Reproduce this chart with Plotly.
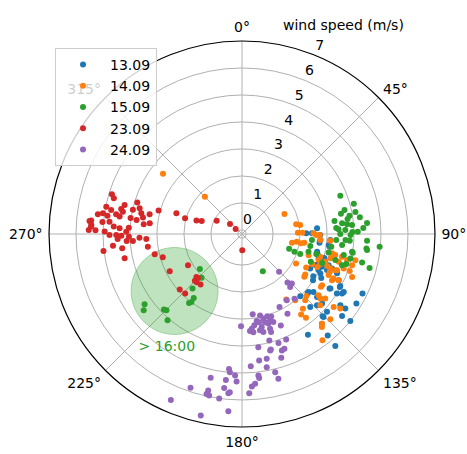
import numpy as np
import plotly.graph_objects as go

# ---------------- data (wind direction in degrees, wind speed in m/s) ----------------
days = ["13.09", "14.09", "15.09", "23.09", "24.09"]
colors = ["#1f77b4", "#ff7f0e", "#2ca02c", "#d62728", "#9467bd"]

dir_1309 = [85.6, 89.4, 89.4, 90.7, 96.4, 93.9, 97.3, 104.9, 108.5, 116.8, 112.5, 112.3, 116.7,
            113.0, 123.1, 115.5, 117.9, 119.7, 121.9, 112.5, 131.9, 136.9, 136.9, 133.5, 132.5,
            135.6, 125.8, 121.3, 116.3, 128.8, 139.8, 140.2, 146.8, 138.3, 131.0, 129.0, 130.0,
            131.0, 121.7, 122.1, 120.7, 118.4, 135.5, 125.9, 129.3, 94.4, 98.3, 103.3, 107.7,
            107.7, 113.0, 109.8, 110.9, 115.3, 106.3, 120.6, 119.1]
speed_1309 = [2.64, 2.23, 2.44, 2.75, 2.74, 3.13, 3.09, 2.75, 3.10, 2.68, 2.86, 3.05, 3.10,
              3.27, 2.99, 3.82, 3.97, 4.19, 3.67, 3.66, 3.12, 3.01, 3.55, 3.68, 4.12,
              4.12, 4.57, 4.81, 4.83, 5.00, 4.77, 5.25, 4.31, 4.30, 3.12, 3.26, 3.48,
              3.78, 3.70, 4.00, 4.16, 3.97, 4.16, 4.35, 4.64, 2.76, 3.13, 2.71, 2.83,
              3.03, 2.80, 3.26, 3.42, 2.98, 3.03, 2.92, 3.21]

dir_1409 = [307.3, 315.2, 64.7, 81.2, 88.7, 88.8, 99.9, 98.0, 99.0, 89.4, 90.7, 94.4, 94.4,
            118.6, 107.6, 108.8, 111.0, 108.5, 105.4, 102.1, 106.0, 102.8, 103.9, 103.0, 105.8,
            117.5, 124.5, 111.3, 110.8, 108.7, 111.3, 115.5, 115.9, 115.4, 123.8, 128.6, 129.5,
            136.3, 140.8, 143.7, 142.6, 128.5, 127.2, 139.3, 142.9, 146.0, 141.2, 102.7, 106.2,
            133.9, 122.6, 117.2, 111.2, 109.0, 113.4, 122.6, 134.0, 138.3, 127.8, 132.3, 98.0,
            90.8, 79.8, 113.2, 110.6, 113.7]
speed_1409 = [3.53, 1.80, 1.59, 2.03, 1.92, 2.09, 1.73, 1.90, 2.06, 2.50, 2.73, 2.76, 3.13,
              2.13, 2.44, 2.85, 2.96, 3.10, 3.25, 3.26, 3.58, 3.65, 3.86, 4.16, 4.09,
              2.53, 2.65, 3.36, 3.62, 3.83, 4.23, 3.82, 3.62, 3.40, 3.37, 3.48, 3.61,
              3.24, 3.42, 3.55, 3.75, 4.19, 4.42, 4.39, 4.79, 2.78, 3.00, 3.39, 2.87,
              3.16, 3.37, 3.60, 3.56, 4.07, 3.39, 2.63, 4.40, 4.30, 3.75, 3.77, 2.18,
              2.60, 1.89, 2.68, 3.23, 2.90]

dir_1509 = [68.7, 74.9, 78.5, 80.3, 81.9, 82.0, 85.0, 83.9, 84.7, 85.3, 87.2, 87.8, 88.9,
            90.0, 90.5, 93.3, 93.6, 93.1, 93.7, 96.3, 95.3, 97.3, 99.2, 94.9, 100.0,
            107.4, 108.7, 105.0, 98.1, 102.0, 101.7, 102.7, 103.3, 104.9, 112.0, 107.3, 105.6,
            150.8, 99.6, 96.6, 76.8, 79.0, 86.3, 89.0, 81.9, 87.2, 109.0, 105.1, 109.9, 106.1,
            230.2, 222.7, 222.2, 217.0, 216.6, 217.5, 234.2, 232.2, 226.0, 224.7, 220.8]
speed_1509 = [3.76, 4.14, 3.59, 3.89, 4.26, 3.31, 4.50, 3.58, 3.76, 3.94, 3.43, 3.68, 4.14,
              3.49, 3.87, 3.69, 3.85, 4.49, 3.35, 3.58, 4.97, 4.52, 3.98, 2.45, 2.42,
              1.68, 1.90, 2.40, 3.19, 3.13, 3.70, 3.97, 4.42, 4.74, 2.60, 3.73, 3.44,
              1.43, 4.01, 4.49, 3.75, 4.13, 3.35, 3.94, 3.80, 4.35, 2.13, 2.70, 3.01, 3.87,
              1.88, 2.06, 2.58, 2.82, 2.99, 3.07, 4.30, 4.46, 3.87, 3.83, 4.07]

dir_2309 = [287.0, 285.6, 286.7, 281.4, 277.8, 278.5, 280.4, 281.7, 280.6, 278.9, 278.1, 282.5,
            284.1, 281.7, 282.1, 279.4, 285.7, 287.6, 285.5, 286.4, 288.0, 297.7, 309.8, 308.4,
            179.0, 274.9, 272.8, 271.5, 271.5, 271.0, 275.3, 273.3, 269.6, 269.5, 269.2, 273.2,
            268.6, 267.9, 267.0, 262.3, 264.8, 263.2, 263.0, 258.3, 275.7, 276.6, 256.9, 253.6,
            240.0, 242.8, 226.7, 225.2, 219.4, 228.3, 223.7, 272.7, 271.1, 275.1, 273.4, 225.0,
            223.2, 283.9, 278.2, 277.7, 266.5, 266.3, 267.7, 277.6, 274.9]
speed_2309 = [4.89, 4.78, 3.90, 4.98, 5.24, 5.06, 4.78, 4.42, 4.34, 4.57, 4.43, 3.99,
              3.76, 3.66, 3.35, 3.57, 3.06, 2.40, 2.04, 1.61, 1.42, 0.91, 0.43, 0.15,
              0.45, 5.52, 5.45, 5.53, 5.28, 4.94, 4.78, 4.61, 4.76, 4.51, 4.32, 4.05,
              4.04, 3.65, 3.40, 3.37, 4.65, 4.32, 5.02, 4.29, 3.51, 3.29, 3.17, 2.91,
              2.16, 2.86, 2.17, 2.31, 2.27, 2.94, 2.90, 4.39, 4.14, 5.46, 5.44, 2.16,
              2.30, 4.33, 4.02, 4.88, 4.13, 3.90, 4.46, 3.79, 5.04]

dir_2409 = [172.4, 167.5, 165.8, 162.9, 162.0, 160.4, 163.6, 170.4, 172.3, 175.3, 174.1, 168.0,
            167.7, 163.5, 163.5, 157.0, 150.3, 180.6, 171.8, 165.6, 166.0, 161.5, 157.3, 161.1,
            159.7, 162.4, 168.8, 172.3, 169.5, 166.5, 165.9, 176.2, 173.4, 173.2, 175.0, 176.3,
            177.4, 185.5, 185.0, 182.8, 182.1, 186.3, 186.6, 184.4, 184.9, 187.9, 192.3, 192.2,
            192.5, 191.5, 198.5, 203.2, 192.8, 184.4, 135.5, 136.8, 137.7, 134.8, 145.9, 141.0,
            152.8, 173.4, 169.4, 166.4, 169.1, 165.4, 160.5]
speed_2409 = [2.85, 2.94, 3.08, 3.04, 3.21, 3.31, 3.31, 3.12, 3.26, 3.46, 3.38, 3.37,
              3.57, 3.51, 3.64, 3.53, 3.25, 3.27, 4.09, 3.92, 4.26, 4.11, 4.09, 4.41,
              4.38, 4.66, 4.56, 4.58, 4.87, 5.12, 5.38, 4.76, 5.13, 5.22, 5.42, 5.51,
              5.76, 4.87, 4.99, 5.10, 5.32, 5.29, 5.59, 5.73, 5.77, 6.00, 5.30, 5.78,
              5.92, 5.96, 5.86, 6.54, 6.75, 6.44, 1.81, 2.31, 2.50, 2.45, 2.81, 2.94,
              2.89, 3.51, 3.48, 4.29, 3.18, 3.23, 3.09]

radial_ticks = [0, 1, 2, 3, 4, 5, 6, 7]
angle_ticks = [0, 45, 90, 135, 180, 225, 270, 315]
angle_labels = [f"{a}°" for a in angle_ticks]

# highlighted region (> 16:00 on 15.09)
hl_dir, hl_speed, hl_radius = 229.8, 3.12, 1.61
hl_label, hl_label_dir, hl_label_speed = "> 16:00", 213.6, 4.88

R_MIN, R_MAX = -0.15, 7
LABEL_R_MAX = 8              # extended range of the overlay used for radial tick labels
RADIAL_LABEL_DIR = 22.5      # compass direction along which radial tick labels sit
RADIAL_LABEL_PAD = 0.38      # label offset outward from its ring (in axis units)

series = [(dir_1309, speed_1309), (dir_1409, speed_1409), (dir_1509, speed_1509),
          (dir_2309, speed_2309), (dir_2409, speed_2409)]

fig = go.Figure()

# shaded circle (round in screen space)
t = np.linspace(0, 2 * np.pi, 181)
rs = hl_speed - R_MIN
cx, cy = rs * np.sin(np.radians(hl_dir)), rs * np.cos(np.radians(hl_dir))
px, py = cx + hl_radius * np.cos(t), cy + hl_radius * np.sin(t)
circ_r = np.hypot(px, py) + R_MIN
circ_th = np.degrees(np.arctan2(px, py)) % 360
fig.add_trace(go.Scatterpolar(r=circ_r, theta=circ_th, mode="lines", fill="toself",
                              fillcolor="rgba(44,160,44,0.3)",
                              line=dict(color="rgba(44,160,44,0.35)", width=1),
                              showlegend=False, hoverinfo="skip"))

for name, col, (d, s) in zip(days, colors, series):
    fig.add_trace(go.Scatterpolar(r=s, theta=d, mode="markers", name=name,
                                  marker=dict(color=col, size=6)))

fig.add_trace(go.Scatterpolar(r=[hl_label_speed], theta=[hl_label_dir], mode="text",
                              text=[hl_label], textposition="middle center",
                              textfont=dict(color="#2ca02c", size=14),
                              showlegend=False, hoverinfo="skip"))

# radial tick labels placed along the 22.5° direction (matplotlib style), on an
# invisible overlay polar whose scale matches the main one but extends past 7
fig.add_trace(go.Scatterpolar(r=[v + RADIAL_LABEL_PAD for v in radial_ticks],
                              theta=[RADIAL_LABEL_DIR] * len(radial_ticks),
                              mode="text", text=[str(v) for v in radial_ticks],
                              textposition="middle center", cliponaxis=False,
                              textfont=dict(color="black", size=14),
                              showlegend=False, hoverinfo="skip", subplot="polar2"))

W, H = 467, 454
cxp, cyp, rad = 242, 234, 193
rad2 = rad * (LABEL_R_MAX - R_MIN) / (R_MAX - R_MIN)
fig.update_layout(
    width=W, height=H,
    margin=dict(l=0, r=0, t=0, b=0),
    paper_bgcolor="white",
    font=dict(family="DejaVu Sans", size=14, color="black"),
    polar=dict(
        domain=dict(x=[(cxp - rad) / W, (cxp + rad) / W],
                    y=[1 - (cyp + rad) / H, 1 - (cyp - rad) / H]),
        bgcolor="white",
        angularaxis=dict(rotation=90, direction="clockwise",
                         tickmode="array", tickvals=angle_ticks, ticktext=angle_labels,
                         showline=True, linecolor="black", linewidth=1.2,
                         gridcolor="#b0b0b0", gridwidth=0.8,
                         ticks="outside", ticklen=3, tickcolor="rgba(0,0,0,0)",
                         tickfont=dict(size=14)),
        radialaxis=dict(range=[R_MIN, R_MAX], tickmode="array", tickvals=radial_ticks,
                        showticklabels=False, showline=False, ticks="",
                        gridcolor="#b0b0b0", gridwidth=0.8),
    ),
    polar2=dict(
        domain=dict(x=[(cxp - rad2) / W, (cxp + rad2) / W],
                    y=[1 - (cyp + rad2) / H, 1 - (cyp - rad2) / H]),
        bgcolor="rgba(0,0,0,0)",
        angularaxis=dict(rotation=90, direction="clockwise", visible=False,
                         showgrid=False, showline=False),
        radialaxis=dict(range=[R_MIN, LABEL_R_MAX], visible=False,
                        showgrid=False, showline=False),
    ),
    legend=dict(x=55 / W, y=1 - 48 / H, xanchor="left", yanchor="top",
                bgcolor="rgba(255,255,255,0.8)", bordercolor="#cccccc", borderwidth=1,
                font=dict(size=14), itemwidth=44),
    annotations=[dict(text="wind speed (m/s)", x=343 / W, y=1 - 25 / H,
                      xref="paper", yref="paper", showarrow=False,
                      xanchor="center", yanchor="middle", font=dict(size=14))],
)

fig.write_html("out.html", config={"displayModeBar": False},
               post_script="document.body.style.margin='0';")
